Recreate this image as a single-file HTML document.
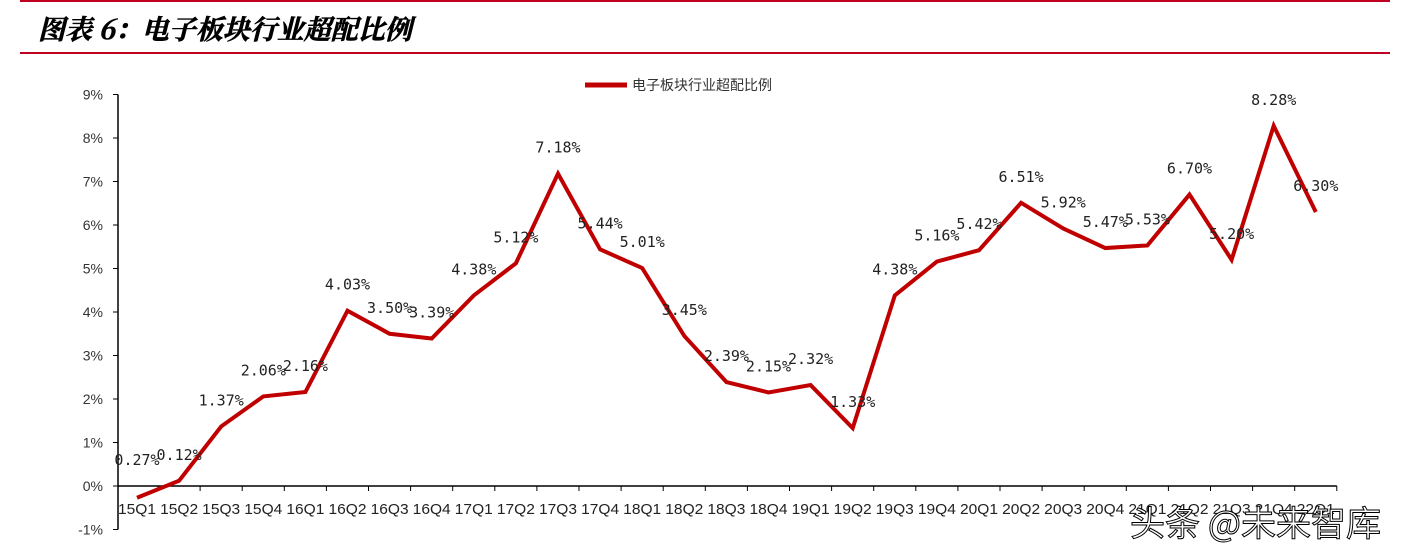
<!DOCTYPE html>
<html><head><meta charset="utf-8"><style>
html,body{margin:0;padding:0;background:#fff;}
svg{display:block;font-family:"Liberation Sans","Noto Sans CJK SC",sans-serif;}
</style></head><body>
<svg id="c" width="1402" height="554">
<line x1="20" y1="1" x2="1390" y2="1" stroke="#c00020" stroke-width="2"/>
<text x="38" y="39" font-size="27" font-weight="bold" font-style="italic" font-family="'Noto Serif CJK SC','Noto Sans CJK SC',serif" stroke="#000" stroke-width="0.6">图表 6：电子板块行业超配比例</text>
<line x1="20" y1="53" x2="1390" y2="53" stroke="#c00020" stroke-width="2"/>
<g>
<line x1="585" y1="85" x2="627" y2="85" stroke="#c00000" stroke-width="5"/>
<text x="632" y="90" font-size="14" fill="#333">电子板块行业超配比例</text>
</g>
<g id="axes"></g>
<g id="marks"></g>
</svg>
<script>
const categories=["15Q1","15Q2","15Q3","15Q4","16Q1","16Q2","16Q3","16Q4","17Q1","17Q2","17Q3","17Q4","18Q1","18Q2","18Q3","18Q4","19Q1","19Q2","19Q3","19Q4","20Q1","20Q2","20Q3","20Q4","21Q1","21Q2","21Q3","21Q4","22Q1"];
const values=[-0.27,0.12,1.37,2.06,2.16,4.03,3.50,3.39,4.38,5.12,7.18,5.44,5.01,3.45,2.39,2.15,2.32,1.33,4.38,5.16,5.42,6.51,5.92,5.47,5.53,6.70,5.20,8.28,6.30];
const yTicks=[-1,0,1,2,3,4,5,6,7,8,9];
const NS="http://www.w3.org/2000/svg";
const x0=137,dx=42.1,xAxisX=118;
function xs(i){return x0+i*dx;}
function ys(v){return 486-v*43.5;}
function mk(t,a,p){const e=document.createElementNS(NS,t);for(const k in a)e.setAttribute(k,a[k]);p.appendChild(e);return e;}
const ax=document.getElementById('axes'),mg=document.getElementById('marks');
const yl=mk('line',{x1:xAxisX,y1:ys(9),x2:xAxisX,y2:ys(-1),stroke:'#000','stroke-width':1.5},ax);


yTicks.forEach(v=>{
 const t=mk('line',{x1:xAxisX-5,y1:ys(v),x2:xAxisX,y2:ys(v),stroke:'#000'},ax);
 
 
 const l=mk('text',{x:xAxisX-15,y:ys(v)+5,'font-size':14,'text-anchor':'end',fill:'#333'},ax);
 l.textContent=v+'%';
 
 
});
const xl=mk('line',{x1:xAxisX,y1:ys(0),x2:xs(categories.length-1)+21,y2:ys(0),stroke:'#000','stroke-width':1.5},ax);


categories.forEach((c,i)=>{
 const t=mk('line',{x1:xs(i)+21,y1:ys(0),x2:xs(i)+21,y2:ys(0)+5,stroke:'#000'},ax);
 
 
 const l=mk('text',{x:xs(i),y:ys(0)+28,'font-size':15,'text-anchor':'middle',fill:'#222',textLength:38,lengthAdjust:'spacingAndGlyphs'},ax);
 l.textContent=c;
 
 
});
const pl=mk('polyline',{points:values.map((v,i)=>xs(i)+','+ys(v)).join(' '),fill:'none',stroke:'#c00000','stroke-width':4,'stroke-linejoin':'miter'},mg);


values.forEach((v,i)=>{
 const l=mk('text',{x:xs(i),y:ys(Math.max(v,0))-21,'font-size':15,'text-anchor':'middle',fill:'#222','font-family':"'DejaVu Sans Mono','Liberation Mono',monospace"},mg);
 l.textContent=Math.abs(v).toFixed(2)+'%';
 
 
});
</script>
<div style="position:absolute;left:1130px;top:496px;font-size:35px;color:#fff;font-family:'Noto Sans CJK SC',sans-serif;-webkit-text-stroke:1px #000;white-space:nowrap;">头条 @未来智库</div>
</body></html>
